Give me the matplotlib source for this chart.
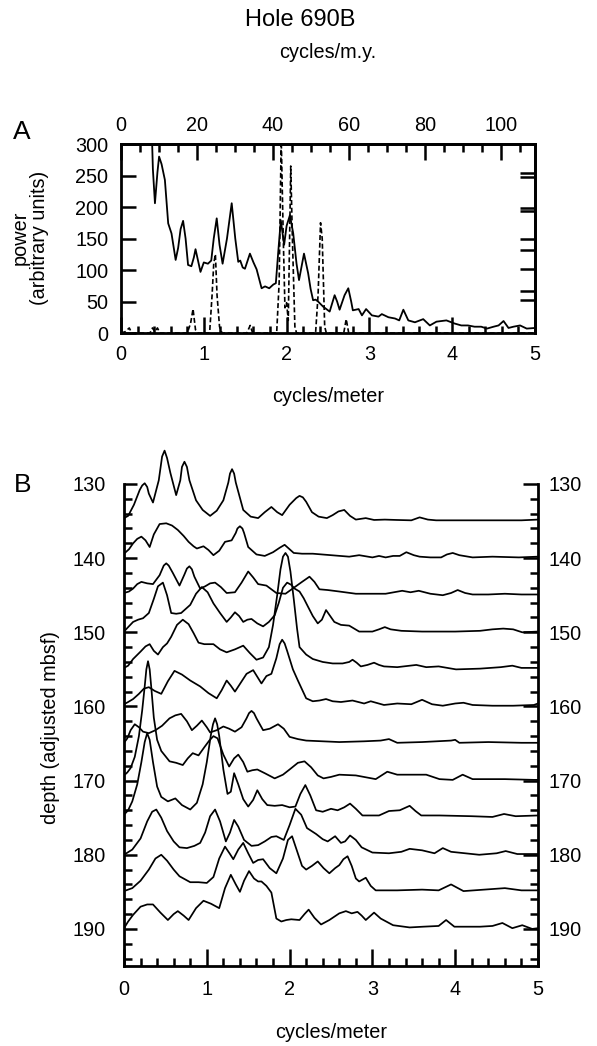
import matplotlib
matplotlib.use("Agg")
import matplotlib.pyplot as plt
from matplotlib.ticker import MultipleLocator, FixedLocator, NullFormatter

plt.rcParams['font.family'] = ['Liberation Sans', 'DejaVu Sans']

# ---------------- panel A : power spectrum ----------------
solid_freq = [0.37, 0.385, 0.41, 0.44, 0.46, 0.49, 0.53, 0.57, 0.61, 0.66, 0.69, 0.72, 0.75, 0.78,
              0.81, 0.85, 0.88, 0.9, 0.93, 0.96, 1.0, 1.05, 1.09, 1.12, 1.156, 1.19, 1.227, 1.28,
              1.337, 1.38, 1.416, 1.44, 1.47, 1.497, 1.557, 1.6, 1.638, 1.67, 1.698, 1.74, 1.79,
              1.84, 1.87, 1.9, 1.93, 1.97, 2.0, 2.04, 2.08, 2.12, 2.15, 2.21, 2.26, 2.29, 2.32,
              2.35, 2.38, 2.44, 2.48, 2.52, 2.58, 2.61, 2.64, 2.7, 2.745, 2.78, 2.80, 2.87, 2.91,
              2.96, 3.03, 3.11, 3.15, 3.23, 3.31, 3.36, 3.41, 3.47, 3.55, 3.65, 3.73, 3.81, 3.93,
              4.03, 4.11, 4.19, 4.27, 4.35, 4.42, 4.50, 4.56, 4.62, 4.68, 4.74, 4.82, 4.90, 5.0]
solid_power = [330, 260, 206, 255, 280, 268, 243, 174, 158, 116, 135, 165, 178, 150,
               108, 106, 120, 133, 115, 97, 112, 110, 115, 150, 182, 140, 110, 150,
               206, 150, 113, 115, 104, 102, 126, 112, 101, 85, 71, 74, 71,
               77, 79, 130, 179, 140, 170, 187, 158, 110, 84, 126, 95, 70, 52,
               53, 50, 42, 38, 34, 60, 50, 37, 60, 71, 50, 36, 38, 28,
               38, 28, 26, 30, 25, 23, 20, 37, 20, 17, 22, 12, 18, 20,
               15, 12, 12, 10, 10, 7, 10, 12, 19, 8, 10, 12, 7, 8]

dash_freq = [0.0, 0.05, 0.1, 0.13, 0.35, 0.38, 0.41, 0.44, 0.47, 0.8, 0.84, 0.87, 0.9, 0.93,
             1.07, 1.1, 1.12, 1.14, 1.16, 1.19, 1.22, 1.52, 1.56, 1.59, 1.88, 1.91, 1.935,
             1.96, 1.98, 2.0, 2.02, 2.04, 2.05, 2.07, 2.1, 2.12, 2.35, 2.38, 2.41, 2.43, 2.46,
             2.48, 2.69, 2.72, 2.75, 5.0]
dash_power = [0, 2, 8, 0, 0, 8, 2, 8, 0, 0, 15, 38, 5, 0,
              0, 60, 110, 125, 60, 10, 0, 0, 12, 0, 0, 80, 310,
              150, 40, 48, 20, 180, 265, 150, 10, 0, 0, 60, 175, 150, 10,
              0, 0, 22, 0, 0]

right_ticks_a = [254, 248, 198, 194, 149, 131, 101, 67, 52]
my_per_cycle_m = 21.8   # cycles/m.y. per cycles/meter (top axis)

# ---------------- panel B : stacked spectra by depth ----------------
freq_135 = [0, 0.05, 0.12, 0.19, 0.22, 0.25, 0.28, 0.30, 0.35, 0.42, 0.46, 0.49, 0.52, 0.56,
            0.63, 0.68, 0.70, 0.73, 0.76, 0.79, 0.87, 0.95, 1.04, 1.12, 1.2, 1.26, 1.28, 1.305,
            1.33, 1.35, 1.44, 1.53, 1.62, 1.7, 1.78, 1.85, 1.91, 2.0, 2.08, 2.12, 2.16, 2.2,
            2.27, 2.35, 2.45, 2.52, 2.59, 2.66, 2.73, 2.80, 2.92, 3.02, 3.15, 3.29, 3.47, 3.57,
            3.67, 3.77, 4.0, 4.21, 4.5, 4.8, 5.0]
depth_135 = [134.6, 134.3, 132.8, 130.8, 130.2, 129.9, 130.4, 131.3, 132.5, 129.5, 126.3, 125.5,
             126.5, 128.5, 131.5, 129.5, 127.7, 127.0, 127.7, 129.5, 132.2, 133.5, 134.3, 133.6,
             132.2, 129.8, 128.6, 128.0, 128.6, 129.8, 133.5, 134.4, 134.6, 133.8, 133.1, 133.8,
             134.2, 132.8, 131.9, 131.6, 131.8, 132.4, 133.8, 134.4, 134.6, 134.2, 133.7, 133.5,
             134.3, 134.8, 134.6, 134.85, 134.8, 134.85, 134.9, 134.5, 134.8, 134.9, 134.9,
             134.9, 134.9, 134.9, 134.8]

freq_140 = [0, 0.06, 0.11, 0.16, 0.21, 0.26, 0.31, 0.36, 0.43, 0.51, 0.58, 0.65, 0.72, 0.78, 0.84,
            0.88, 0.96, 1.02, 1.08, 1.15, 1.22, 1.3, 1.35, 1.37, 1.40, 1.43, 1.45, 1.5, 1.6, 1.70,
            1.8, 1.88, 1.94, 2.0, 2.05, 2.15, 2.28, 2.5, 2.72, 2.84, 3.0, 3.08, 3.16, 3.25, 3.33,
            3.41, 3.5, 3.57, 3.7, 3.83, 3.9, 3.97, 4.05, 4.21, 4.45, 4.77, 5.0]
depth_140 = [139.4, 138.8, 138.0, 137.4, 137.1, 137.6, 138.5, 136.8, 135.4, 135.3, 135.6, 136.2,
             137.0, 137.8, 138.4, 138.7, 138.4, 138.9, 139.6, 139.0, 137.8, 137.6, 136.6, 136.0,
             135.7, 136.0, 136.6, 138.5, 139.5, 139.7, 139.2, 138.6, 138.2, 138.8, 139.3, 139.4,
             139.4, 139.6, 139.8, 139.6, 139.9, 139.7, 139.9, 139.7, 139.7, 139.2, 139.6, 139.8,
             139.9, 139.9, 139.5, 139.3, 139.6, 139.9, 139.8, 139.9, 139.8]

freq_145 = [0, 0.06, 0.11, 0.16, 0.21, 0.28, 0.35, 0.43, 0.48, 0.51, 0.54, 0.59, 0.67, 0.73,
            0.76, 0.79, 0.82, 0.85, 0.92, 0.98, 1.04, 1.10, 1.17, 1.24, 1.34, 1.42, 1.50, 1.56,
            1.62, 1.72, 1.84, 1.95, 2.05, 2.15, 2.24, 2.3, 2.36, 2.46, 2.6, 2.8, 3.0, 3.16, 3.26,
            3.36, 3.46, 3.56, 3.7, 3.85, 3.95, 4.03, 4.12, 4.21, 4.4, 4.6, 4.8, 5.0]
depth_145 = [144.7, 144.5, 144.1, 143.5, 143.2, 143.4, 143.5, 142.3, 141.0, 140.7, 141.0, 142.0,
             143.7, 142.2, 141.4, 141.1, 141.5, 142.5, 144.1, 143.8, 143.4, 143.3, 143.9, 144.7,
             144.6, 143.3, 141.8, 142.6, 143.5, 143.7, 144.7, 144.8, 144.0, 143.2, 142.5, 143.2,
             144.2, 144.3, 144.5, 144.8, 144.8, 144.8, 144.6, 144.4, 144.6, 144.4, 144.8, 145.0,
             144.7, 144.3, 144.7, 144.9, 144.9, 144.8, 144.9, 144.9]

freq_150 = [0, 0.05, 0.11, 0.17, 0.23, 0.3, 0.36, 0.41, 0.47, 0.52, 0.57, 0.63, 0.69, 0.75, 0.80,
            0.87, 0.94, 1.01, 1.08, 1.16, 1.24, 1.29, 1.34, 1.39, 1.44, 1.49, 1.54, 1.61, 1.68,
            1.75, 1.82, 1.87, 1.92, 1.97, 2.02, 2.06, 2.12, 2.17, 2.22, 2.28, 2.34, 2.39, 2.44,
            2.49, 2.54, 2.62, 2.72, 2.84, 3.0, 3.08, 3.15, 3.22, 3.35, 3.6, 4.0, 4.3, 4.45, 4.58,
            4.7, 4.81, 5.0]
depth_150 = [149.9, 149.3, 148.6, 148.3, 148.1, 147.4, 145.5, 143.8, 143.3, 145.0, 147.4, 147.5,
             147.4, 146.8, 146.3, 144.8, 143.9, 144.6, 146.1, 147.4, 148.6, 148.0, 147.3, 147.8,
             148.6, 148.3, 148.2, 148.8, 149.2, 148.6, 147.7, 146.0, 144.0, 143.3, 143.6, 144.1,
             144.5, 145.4, 146.5, 147.8, 148.8, 148.3, 147.0, 147.8, 148.6, 149.0, 149.1, 149.9,
             149.9, 149.6, 149.3, 149.6, 149.8, 149.9, 149.9, 149.8, 149.6, 149.5, 149.6, 150.0,
             149.9]

freq_155 = [0, 0.05, 0.11, 0.2, 0.26, 0.31, 0.36, 0.41, 0.47, 0.52, 0.57, 0.64, 0.71, 0.78, 0.84,
            0.9, 0.97, 1.08, 1.16, 1.24, 1.34, 1.44, 1.52, 1.6, 1.68, 1.75, 1.80, 1.85, 1.89, 1.92,
            1.95, 1.98, 2.01, 2.05, 2.09, 2.12, 2.2, 2.28, 2.4, 2.52, 2.64, 2.72, 2.76, 2.81, 2.86,
            2.94, 3.02, 3.08, 3.14, 3.3, 3.53, 3.65, 3.8, 4.01, 4.3, 4.55, 4.69, 4.8, 5.0]
depth_155 = [154.8, 154.5, 153.6, 152.6, 151.9, 151.6, 152.5, 153.0, 152.0, 151.5, 150.6, 149.0,
             148.3, 148.9, 150.1, 151.4, 151.6, 151.6, 152.3, 152.7, 152.3, 151.8, 152.8, 153.7,
             153.4, 152.0, 149.0, 145.0, 141.5, 139.8, 139.3, 139.8, 141.8, 145.5, 149.5, 152.0,
             153.0, 153.6, 154.0, 154.2, 154.2, 154.0, 153.7, 154.1, 154.6, 154.4, 154.1, 154.4,
             154.6, 154.7, 154.4, 154.7, 154.6, 155.0, 154.9, 154.7, 154.5, 154.8, 154.8]

freq_160 = [0, 0.05, 0.11, 0.18, 0.24, 0.3, 0.37, 0.45, 0.53, 0.61, 0.7, 0.8, 0.92, 1.02, 1.12,
            1.18, 1.24, 1.29, 1.34, 1.41, 1.48, 1.56, 1.61, 1.66, 1.72, 1.78, 1.84, 1.88, 1.91,
            1.94, 1.97, 2.04, 2.1, 2.2, 2.28, 2.36, 2.44, 2.52, 2.62, 2.76, 2.9, 2.98, 3.14, 3.3,
            3.47, 3.6, 3.72, 3.85, 4.0, 4.1, 4.21, 4.45, 4.7, 4.95, 5.0]
depth_160 = [159.7, 159.4, 159.0, 158.3, 157.6, 157.4, 157.9, 158.3, 156.6, 155.2, 155.7, 156.5,
             157.3, 158.2, 158.9, 157.8, 156.5, 157.2, 158.0, 156.8, 155.6, 155.1, 156.0, 156.9,
             155.9, 155.6, 153.5, 151.6, 151.0, 151.5, 152.5, 155.0, 156.5, 158.9, 159.3, 159.2,
             159.0, 159.3, 159.4, 159.2, 159.6, 159.3, 159.8, 159.6, 159.7, 159.1, 159.7, 159.9,
             159.6, 159.5, 159.8, 159.9, 159.9, 159.8, 159.6]

freq_165 = [0, 0.04, 0.08, 0.13, 0.18, 0.23, 0.3, 0.38, 0.46, 0.55, 0.62, 0.69, 0.76, 0.82, 0.88,
            0.94, 1.0, 1.04, 1.12, 1.2, 1.27, 1.34, 1.42, 1.48, 1.51, 1.54, 1.57, 1.6, 1.68, 1.76,
            1.86, 1.93, 2.0, 2.1, 2.2, 2.4, 2.6, 2.9, 3.1, 3.2, 3.3, 3.6, 3.95, 4.0, 4.05, 4.4,
            4.8, 5.0]
depth_165 = [164.9, 164.3, 163.2, 162.4, 162.8, 163.4, 163.6, 163.2, 162.6, 161.6, 161.2, 161.0,
             162.0, 163.2, 162.6, 161.9, 162.8, 163.5, 163.2, 162.7, 163.0, 163.4, 162.8, 161.6,
             160.9, 160.6, 160.9, 161.6, 163.2, 163.0, 162.4, 163.0, 164.1, 164.4, 164.6, 164.7,
             164.8, 164.7, 164.6, 164.4, 164.9, 164.8, 164.6, 164.5, 164.9, 164.8, 164.9, 164.9]

freq_170 = [0, 0.04, 0.08, 0.13, 0.18, 0.22, 0.25, 0.27, 0.29, 0.31, 0.33, 0.36, 0.4, 0.45, 0.55,
            0.63, 0.71, 0.77, 0.83, 0.9, 0.97, 1.03, 1.08, 1.13, 1.2, 1.27, 1.33, 1.38, 1.44, 1.49,
            1.55, 1.61, 1.7, 1.82, 1.92, 2.0, 2.1, 2.18, 2.26, 2.34, 2.41, 2.5, 2.6, 2.8, 3.04,
            3.18, 3.3, 3.65, 3.81, 3.97, 4.09, 4.21, 4.6, 4.95, 5.0]
depth_170 = [169.3, 168.9, 168.3, 166.8, 164.0, 160.5, 157.3, 155.0, 153.9, 155.0, 157.5, 161.5,
             164.5, 166.0, 167.4, 167.6, 167.9, 167.0, 166.3, 166.6, 165.5, 164.6, 164.0, 164.3,
             166.5, 168.1, 167.0, 166.5, 167.5, 168.8, 168.6, 168.5, 169.0, 169.7, 169.2, 168.5,
             167.6, 167.4, 168.2, 169.3, 169.7, 169.5, 169.2, 169.3, 169.8, 168.8, 169.2, 169.2,
             169.8, 169.9, 169.2, 169.8, 169.8, 169.9, 169.9]

freq_175 = [0, 0.05, 0.1, 0.16, 0.21, 0.25, 0.28, 0.31, 0.35, 0.4, 0.45, 0.53, 0.62, 0.7, 0.80,
            0.88, 0.95, 1.0, 1.05, 1.075, 1.1, 1.125, 1.15, 1.2, 1.25, 1.29, 1.33, 1.38, 1.44,
            1.5, 1.56, 1.61, 1.67, 1.73, 1.82, 1.91, 2.0, 2.07, 2.13, 2.19, 2.25, 2.32, 2.4, 2.5,
            2.58, 2.66, 2.73, 2.8, 2.88, 3.08, 3.2, 3.33, 3.45, 3.52, 3.59, 3.81, 4.2, 4.45,
            4.59, 4.73, 5.0]
depth_175 = [174.6, 174.0, 172.8, 170.5, 167.5, 164.8, 163.6, 164.5, 167.5, 170.8, 172.2, 172.8,
             172.4, 173.3, 173.9, 173.0, 170.5, 167.5, 163.8, 162.4, 161.6, 162.4, 164.0, 168.5,
             171.8, 171.5, 169.0, 170.5, 172.5, 173.5, 172.6, 171.3, 172.5, 173.3, 173.4, 173.3,
             173.6, 173.5, 171.8, 170.6, 172.0, 174.0, 174.2, 173.8, 174.0, 173.6, 173.1, 173.8,
             174.7, 174.7, 174.1, 174.0, 173.4, 174.1, 174.7, 174.7, 174.8, 174.9, 174.5, 174.8,
             174.7]

freq_180 = [0, 0.1, 0.2, 0.28, 0.34, 0.39, 0.45, 0.52, 0.6, 0.67, 0.76, 0.85, 0.92, 0.98, 1.04,
            1.1, 1.16, 1.23, 1.28, 1.33, 1.38, 1.45, 1.54, 1.62, 1.7, 1.78, 1.84, 1.93, 2.0, 2.07,
            2.14, 2.21, 2.32, 2.4, 2.46, 2.55, 2.62, 2.67, 2.73, 2.8, 2.87, 3.0, 3.2, 3.35, 3.45,
            3.6, 3.75, 3.85, 3.95, 4.29, 4.5, 4.61, 4.75, 5.0]
depth_180 = [180.0, 179.3, 177.8, 175.5, 174.2, 173.9, 175.0, 176.8, 178.2, 179.0, 179.1, 178.8,
             178.4, 177.0, 174.8, 173.9, 175.5, 178.2, 177.0, 175.3, 176.2, 178.0, 178.8, 178.7,
             178.2, 177.6, 177.5, 178.0, 176.0, 173.8, 174.6, 176.4, 177.2, 177.9, 178.2, 177.5,
             178.4, 178.2, 177.4, 178.0, 179.0, 179.7, 179.8, 179.6, 179.2, 179.4, 179.8, 179.1,
             179.6, 180.0, 179.8, 179.5, 179.9, 179.9]

freq_185 = [0, 0.1, 0.2, 0.3, 0.38, 0.45, 0.52, 0.6, 0.67, 0.8, 0.9, 1.0, 1.08, 1.15, 1.22, 1.28,
            1.32, 1.38, 1.44, 1.5, 1.56, 1.62, 1.68, 1.76, 1.84, 1.92, 1.98, 2.03, 2.09, 2.15, 2.2,
            2.27, 2.34, 2.41, 2.48, 2.55, 2.6, 2.65, 2.7, 2.75, 2.8, 2.84, 2.92, 2.98, 3.04, 3.3,
            3.6, 3.8, 3.95, 4.1, 4.35, 4.6, 4.8, 5.0]
depth_185 = [184.9, 184.5, 183.5, 182.0, 180.5, 180.0, 180.8, 182.0, 182.9, 183.7, 183.7, 183.8,
             183.0, 180.5, 178.9, 179.9, 180.6, 179.3, 178.4, 179.8, 181.1, 180.7, 180.6, 181.8,
             182.5, 180.5, 178.0, 177.5, 179.5, 181.5, 182.0, 181.5, 180.9, 181.8, 182.5, 181.8,
             181.4, 180.6, 180.2, 181.5, 183.2, 183.6, 183.1, 184.2, 184.8, 184.8, 184.7, 184.8,
             184.0, 184.9, 184.7, 184.5, 184.8, 184.8]

freq_190 = [0, 0.05, 0.11, 0.2, 0.28, 0.35, 0.44, 0.53, 0.6, 0.65, 0.72, 0.78, 0.87, 0.96, 1.05,
            1.15, 1.22, 1.29, 1.35, 1.4, 1.45, 1.51, 1.57, 1.62, 1.66, 1.72, 1.78, 1.84, 1.9, 1.96,
            2.02, 2.12, 2.18, 2.23, 2.3, 2.38, 2.48, 2.6, 2.68, 2.75, 2.82, 2.87, 2.92, 3.02, 3.1,
            3.25, 3.45, 3.61, 3.8, 3.89, 3.99, 4.3, 4.45, 4.57, 4.69, 4.81, 4.93, 5.0]
depth_190 = [189.9, 189.0, 188.1, 187.0, 186.7, 186.7, 187.8, 188.8, 188.0, 187.6, 188.2, 188.8,
             187.2, 186.2, 186.6, 187.2, 184.5, 182.7, 184.0, 185.0, 183.5, 182.2, 183.2, 183.6,
             183.6, 184.2, 185.1, 188.6, 189.0, 188.8, 188.7, 188.8, 188.0, 187.4, 188.5, 189.4,
             188.8, 187.9, 187.6, 187.9, 187.7, 188.2, 188.8, 187.8, 188.6, 189.5, 189.8, 189.7,
             189.6, 188.8, 189.7, 189.7, 189.6, 189.2, 189.9, 189.5, 190.0, 189.9]

traces = [(freq_135, depth_135), (freq_140, depth_140), (freq_145, depth_145),
          (freq_150, depth_150), (freq_155, depth_155), (freq_160, depth_160),
          (freq_165, depth_165), (freq_170, depth_170), (freq_175, depth_175),
          (freq_180, depth_180), (freq_185, depth_185), (freq_190, depth_190)]

depth_major = [130, 140, 150, 160, 170, 180, 190]
depth_minor = list(range(130, 196, 2))

# ---------------- figure ----------------
W, H = 597, 1046
fig = plt.figure(figsize=(W / 100, H / 100), dpi=100)


def box(l, t, r, b):
    return [l / W, 1 - b / H, (r - l) / W, (b - t) / H]


def fx(x):
    return x / W


def fy(y):
    return 1 - y / H


SPINE = 2.0
TW = 1.8
FS = 14.3

fig.text(fx(300), fy(20), "Hole 690B", ha="center", va="center", fontsize=17)

# ---- panel A
axA = fig.add_axes(box(121, 144, 535, 333))
axA.plot(solid_freq, solid_power, color="k", lw=1.3, solid_joinstyle="round")
axA.plot(dash_freq, dash_power, color="k", lw=1.2, linestyle=(0, (3, 1.6)))
axA.set_xlim(0, 5)
axA.set_ylim(0, 300)
for s in axA.spines.values():
    s.set_linewidth(SPINE)
axA.xaxis.set_major_locator(MultipleLocator(1))
axA.xaxis.set_minor_locator(MultipleLocator(0.2))
axA.yaxis.set_major_locator(MultipleLocator(50))
axA.tick_params(axis="x", which="major", direction="in", length=11.5, width=TW,
                labelsize=FS, pad=8.5)
axA.tick_params(axis="x", which="minor", direction="in", length=5, width=TW)
axA.tick_params(axis="y", which="major", direction="in", length=10.8, width=TW,
                labelsize=FS, pad=9.2)

topA = axA.secondary_xaxis("top", functions=(lambda c: c * my_per_cycle_m,
                                              lambda m: m / my_per_cycle_m))
topA.xaxis.set_major_locator(FixedLocator([0, 20, 40, 60, 80, 100]))
topA.xaxis.set_minor_locator(MultipleLocator(5))
topA.tick_params(which="major", direction="in", length=11.5, width=TW, labelsize=FS, pad=6.5)
topA.tick_params(which="minor", direction="in", length=5.5, width=TW)
topA.spines["top"].set_linewidth(SPINE)

rightA = axA.secondary_yaxis("right")
rightA.yaxis.set_major_locator(FixedLocator(right_ticks_a))
rightA.yaxis.set_major_formatter(NullFormatter())
rightA.tick_params(direction="in", length=10.8, width=TW)
rightA.spines["right"].set_linewidth(SPINE)

fig.text(fx(328), fy(53), "cycles/m.y.", ha="center", va="center", fontsize=FS)
fig.text(fx(22), fy(132), "A", ha="center", va="center", fontsize=19)
fig.text(fx(30), fy(238), "power\n(arbitrary units)", ha="center", va="center",
         rotation=90, fontsize=FS, linespacing=1.0)
fig.text(fx(328), fy(396), "cycles/meter", ha="center", va="center", fontsize=FS)

# ---- panel B
axB = fig.add_axes(box(124, 439.5, 538, 966))
for f, d in traces:
    axB.plot(f, d, color="k", lw=1.25, solid_joinstyle="round")
axB.set_xlim(0, 5)
axB.set_ylim(195, 124)
axB.spines["top"].set_visible(False)
axB.spines["right"].set_visible(False)
axB.spines["left"].set_bounds(130, 195)
for s in ("left", "bottom"):
    axB.spines[s].set_linewidth(SPINE)
axB.xaxis.set_major_locator(MultipleLocator(1))
axB.xaxis.set_minor_locator(MultipleLocator(0.2))
axB.yaxis.set_major_locator(FixedLocator(depth_major))
axB.yaxis.set_minor_locator(FixedLocator(depth_minor))
axB.tick_params(axis="x", which="major", direction="in", length=12.5, width=TW,
                labelsize=FS, pad=10)
axB.tick_params(axis="x", which="minor", direction="in", length=5.8, width=TW)
axB.tick_params(axis="y", which="major", direction="in", length=9, width=TW,
                labelsize=FS, pad=13.2)
axB.tick_params(axis="y", which="minor", direction="in", length=5.8, width=TW)

axR = axB.twinx()
axR.set_ylim(195, 124)
for s in ("left", "top", "bottom"):
    axR.spines[s].set_visible(False)
axR.spines["right"].set_bounds(130, 195)
axR.spines["right"].set_linewidth(SPINE)
axR.yaxis.set_major_locator(FixedLocator(depth_major))
axR.yaxis.set_minor_locator(FixedLocator(depth_minor))
axR.tick_params(axis="y", which="major", direction="in", length=10.8, width=TW,
                labelsize=FS, pad=7.2)
axR.tick_params(axis="y", which="minor", direction="in", length=5.8, width=TW)

fig.text(fx(23), fy(485), "B", ha="center", va="center", fontsize=19)
fig.text(fx(51), fy(727), "depth (adjusted mbsf)", ha="center", va="center",
         rotation=90, fontsize=FS)
fig.text(fx(331), fy(1032), "cycles/meter", ha="center", va="center", fontsize=FS)

fig.savefig("out.png", dpi=100)
